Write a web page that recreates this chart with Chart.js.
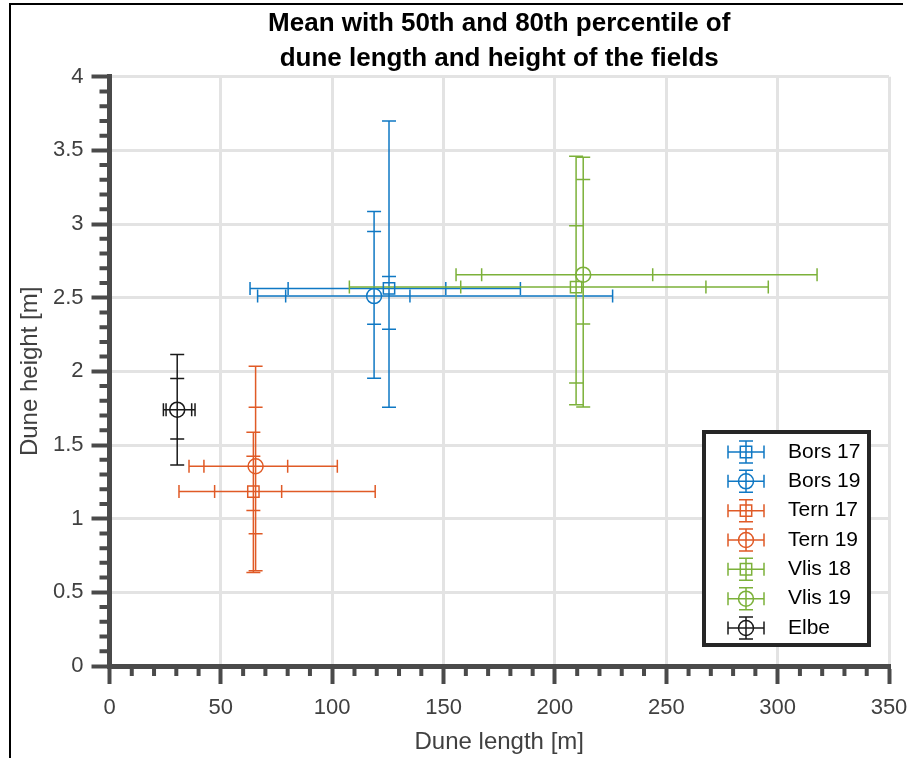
<!DOCTYPE html>
<html lang="en">
<head>
<meta charset="UTF-8">
<title>Dune length and height of the fields</title>
<script src="https://cdn.jsdelivr.net/npm/chart.js@4.4.1/dist/chart.umd.min.js"></script>
<style>
  body { margin: 0; background: #fff; }
  canvas { display: block; }
</style>
</head>
<body>
<canvas id="chart" width="909" height="758"></canvas>
<script>
// fields, one entry per errorbar series
const fields = ['Bors 17', 'Bors 19', 'Tern 17', 'Tern 19', 'Vlis 18', 'Vlis 19', 'Elbe'];
const markers = ['rect', 'circle', 'rect', 'circle', 'rect', 'circle', 'circle'];
const colors = ['#0f78c4', '#0f78c4', '#e05a26', '#e05a26', '#7cb13a', '#7cb13a', '#1a1a1a'];

// mean dune length [m] and height [m]
const meanLength = [125.5, 118.8, 64.6, 65.6, 209.5, 212.7, 30.4];
const meanHeight = [2.563, 2.511, 1.184, 1.356, 2.572, 2.656, 1.740];

// 50th and 80th percentile ranges of length
const length50Low  = [80.2, 79.1, 47.2, 42.4, 157.7, 167.1, 25.4];
const length50High = [151.0, 134.9, 77.3, 80.0, 267.8, 243.9, 36.9];
const length80Low  = [63.1, 66.5, 31.2, 35.7, 107.7, 155.6, 24.2];
const length80High = [184.5, 225.9, 119.3, 102.3, 295.8, 317.7, 38.4];

// 50th and 80th percentile ranges of height
const height50Low  = [2.285, 2.319, 1.056, 0.897, 1.921, 2.321, 1.541];
const height50High = [2.644, 2.949, 1.424, 1.756, 2.988, 3.302, 1.951];
const height80Low  = [1.756, 1.953, 0.635, 0.646, 1.774, 1.758, 1.365];
const height80High = [3.700, 3.085, 1.586, 2.034, 3.460, 3.453, 2.115];

// axis ticks
const xTicks = [0, 50, 100, 150, 200, 250, 300, 350];
const yTicks = [0, 0.5, 1, 1.5, 2, 2.5, 3, 3.5, 4];

const FONT = '"Liberation Sans", Arial, Helvetica, sans-serif';
const AXIS = '#4a4a4a';

// draw the two percentile errorbars of every field
const errorBars = {
  id: 'errorBars',
  beforeDatasetsDraw(chart) {
    const { ctx, scales: { x, y } } = chart;
    ctx.save();
    ctx.lineWidth = 1.5;
    fields.forEach((f, i) => {
      const px = x.getPixelForValue(meanLength[i]);
      const py = y.getPixelForValue(meanHeight[i]);
      ctx.strokeStyle = colors[i];
      ctx.beginPath();
      [[height80Low[i], height80High[i]], [height50Low[i], height50High[i]]].forEach(([lo, hi]) => {
        const a = y.getPixelForValue(lo), b = y.getPixelForValue(hi);
        ctx.moveTo(px, a); ctx.lineTo(px, b);
        ctx.moveTo(px - 7, a); ctx.lineTo(px + 7, a);
        ctx.moveTo(px - 7, b); ctx.lineTo(px + 7, b);
      });
      [[length80Low[i], length80High[i]], [length50Low[i], length50High[i]]].forEach(([lo, hi]) => {
        const a = x.getPixelForValue(lo), b = x.getPixelForValue(hi);
        ctx.moveTo(a, py); ctx.lineTo(b, py);
        ctx.moveTo(a, py - 6.5); ctx.lineTo(a, py + 6.5);
        ctx.moveTo(b, py - 6.5); ctx.lineTo(b, py + 6.5);
      });
      ctx.stroke();
    });
    ctx.restore();
  }
};

// minor ticks (matlab style, pointing out)
const minorTicks = {
  id: 'minorTicks',
  afterDraw(chart) {
    const { ctx, chartArea, scales: { x, y } } = chart;
    ctx.save();
    ctx.strokeStyle = AXIS;
    ctx.lineWidth = 4;
    ctx.beginPath();
    for (let v = 10; v < 350; v += 10) {
      if (v % 50 === 0) continue;
      const px = x.getPixelForValue(v);
      ctx.moveTo(px, chartArea.bottom); ctx.lineTo(px, chartArea.bottom + 10);
    }
    for (let k = 1; k < 40; k++) {
      if (k % 5 === 0) continue;
      const py = y.getPixelForValue(k / 10);
      ctx.moveTo(chartArea.left, py); ctx.lineTo(chartArea.left - 10, py);
    }
    ctx.stroke();
    // figure frame
    ctx.fillStyle = '#000';
    ctx.fillRect(9, 3, 2, 755);
    ctx.fillRect(9, 3, 894, 2);
    ctx.restore();
  }
};

// legend box with errorbar icons
const boxLegend = {
  id: 'boxLegend',
  afterDraw(chart) {
    const { ctx, chartArea } = chart;
    const w = 169, h = 217;
    const left = chartArea.right - 18 - w, top = chartArea.bottom - 19 - h;
    ctx.save();
    ctx.fillStyle = '#fff';
    ctx.fillRect(left, top, w, h);
    ctx.lineWidth = 4;
    ctx.strokeStyle = '#262626';
    ctx.strokeRect(left + 2, top + 2, w - 4, h - 4);
    ctx.font = '21px ' + FONT;
    ctx.textBaseline = 'middle';
    fields.forEach((name, i) => {
      const cy = top + 22 + i * 29.33;
      const cx = left + 44;
      ctx.strokeStyle = colors[i];
      ctx.lineWidth = 1.5;
      ctx.beginPath();
      ctx.moveTo(cx - 18, cy); ctx.lineTo(cx + 18, cy);
      ctx.moveTo(cx - 18, cy - 6.5); ctx.lineTo(cx - 18, cy + 6.5);
      ctx.moveTo(cx + 18, cy - 6.5); ctx.lineTo(cx + 18, cy + 6.5);
      ctx.moveTo(cx, cy - 11); ctx.lineTo(cx, cy + 11);
      ctx.moveTo(cx - 7, cy - 11); ctx.lineTo(cx + 7, cy - 11);
      ctx.moveTo(cx - 7, cy + 11); ctx.lineTo(cx + 7, cy + 11);
      ctx.stroke();
      ctx.beginPath();
      if (markers[i] === 'rect') ctx.rect(cx - 5.7, cy - 5.7, 11.4, 11.4);
      else ctx.arc(cx, cy, 7.5, 0, Math.PI * 2);
      ctx.stroke();
      ctx.fillStyle = '#000';
      ctx.fillText(name, left + 86, cy);
    });
    ctx.restore();
  }
};

const ctx = document.getElementById('chart').getContext('2d');
const myChart = new Chart(ctx, {
  type: 'scatter',
  data: {
    datasets: fields.map((f, i) => ({
      label: f,
      data: [{ x: meanLength[i], y: meanHeight[i] }],
      pointStyle: markers[i],
      pointRadius: markers[i] === 'rect' ? 8 : 7.5,
      pointHoverRadius: markers[i] === 'rect' ? 8 : 7.5,
      borderColor: colors[i],
      backgroundColor: 'rgba(0,0,0,0)',
      pointBorderWidth: 1.5
    }))
  },
  options: {
    responsive: false,
    animation: false,
    layout: { padding: { left: 0, right: 20, top: 0, bottom: 0 } },
    plugins: {
      legend: { display: false },
      tooltip: { enabled: false },
      title: {
        display: true,
        fullSize: false,
        text: ['Mean with 50th and 80th percentile of', 'dune length and height of the fields'],
        color: '#000',
        font: { family: FONT, size: 26, weight: 'bold', lineHeight: 1.35 },
        padding: { top: 6.5, bottom: 0 }
      }
    },
    scales: {
      x: {
        type: 'linear',
        min: 0, max: 350,
        afterBuildTicks: s => { s.ticks = xTicks.map(v => ({ value: v })); },
        afterFit: s => { s.height = 92; s.paddingLeft = 0; s.paddingRight = 0; },
        grid: { color: '#e3e3e3', lineWidth: 3, tickColor: AXIS, tickWidth: 4, tickLength: 18 },
        border: { color: AXIS, width: 5 },
        ticks: { color: '#404040', font: { family: FONT, size: 22 }, padding: 11, maxRotation: 0, callback: v => String(v) },
        title: { display: true, text: 'Dune length [m]', color: '#404040', font: { family: FONT, size: 24 }, padding: { top: 0, bottom: 1 } }
      },
      y: {
        type: 'linear',
        min: 0, max: 4,
        afterBuildTicks: s => { s.ticks = yTicks.map(v => ({ value: v })); },
        afterFit: s => { s.width = 109.5; s.paddingTop = 0; s.paddingBottom = 0; },
        grid: { color: '#e3e3e3', lineWidth: 3, tickColor: AXIS, tickWidth: 4, tickLength: 18 },
        border: { color: AXIS, width: 5 },
        ticks: { color: '#404040', font: { family: FONT, size: 22 }, padding: 8, callback: v => String(v) },
        title: { display: true, text: 'Dune height [m]', color: '#404040', font: { family: FONT, size: 24 }, padding: { top: 16, bottom: 0 } }
      }
    }
  },
  plugins: [errorBars, minorTicks, boxLegend]
});
</script>
</body>
</html>
